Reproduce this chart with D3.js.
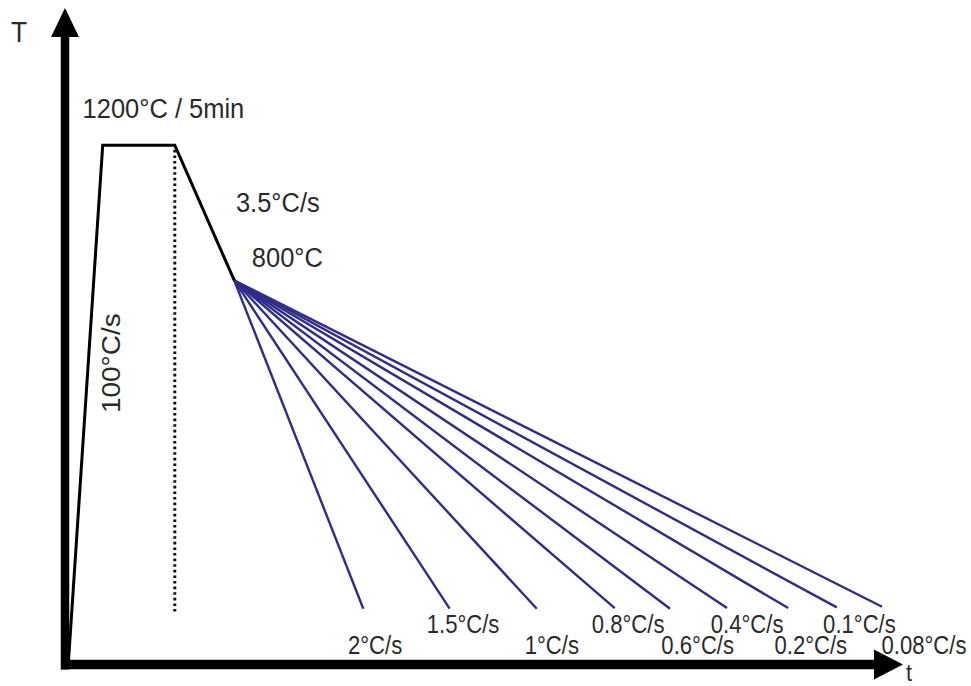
<!DOCTYPE html>
<html>
<head>
<meta charset="utf-8">
<script src="https://cdn.jsdelivr.net/npm/d3@7"></script>
<style>
  html, body { margin: 0; padding: 0; background: #fff; }
  svg { display: block; }
  text { font-family: "Liberation Sans", Arial, sans-serif; fill: #2a2a2a; }
</style>
</head>
<body>
<svg id="chart" width="971" height="686"></svg>
<script>
// ---- Data (schematic units: time 0..1000, temperature 0..1000) ----
const profileT    = [4, 45, 131, 202];      // heating start, reach 1200°C, end of hold, reach 800°C
const profileTemp = [2, 791, 791, 585];
const holdMarkerT = 131;
const holdMarkerTemp = [784, 78];

const rates      = ["2°C/s", "1.5°C/s", "1°C/s", "0.8°C/s", "0.6°C/s", "0.4°C/s", "0.2°C/s", "0.1°C/s", "0.08°C/s"];
const coolEndT   = [356, 459, 563, 656, 722, 790, 863, 921, 975];
const coolEndTmp = [85, 85, 85, 86, 85, 86, 86, 87, 88];
const labelT     = [370, 475, 581, 672, 755, 814, 890, 948, 1025];
const labelRow   = [0, 1, 0, 1, 0, 1, 0, 1, 0];   // 0 = lower row, 1 = upper row
const rowTemp    = [16, 48];

const stageLabels = ["1200°C / 5min", "3.5°C/s", "800°C", "100°C/s"];
const stageT      = [21, 204, 223, 66];
const stageTemp   = [833, 689, 605, 383];

// ---- Scales ----
const svg = d3.select("#chart");
const x = d3.scaleLinear().domain([0, 1000]).range([65, 903]);
const y = d3.scaleLinear().domain([0, 1000]).range([664.5, 8]);

// ---- Axes (arrows) ----
const x0 = x(0), y0 = y(0), xEnd = x.range()[1], yTop = y.range()[1];
const headLen = 28, headHalf = 14;
svg.append("line").attr("x1", x0).attr("x2", x0).attr("y1", y0 + 5).attr("y2", yTop + headLen)
  .attr("stroke", "#000").attr("stroke-width", 8.5);
svg.append("path").attr("d", `M${x0 - headHalf},${yTop + headLen + 1}L${x0 + headHalf},${yTop + headLen + 1}L${x0},${yTop}Z`).attr("fill", "#000");
svg.append("line").attr("x1", x0 - 4).attr("x2", xEnd - headLen).attr("y1", y0).attr("y2", y0)
  .attr("stroke", "#000").attr("stroke-width", 9.5);
svg.append("path").attr("d", `M${xEnd - headLen - 1},${y0 - 15}L${xEnd - headLen - 1},${y0 + 15}L${xEnd},${y0}Z`).attr("fill", "#000");

function label(txt, px, py, size, sx, anchor, rot) {
  return svg.append("text")
    .attr("transform", `translate(${px},${py}) scale(${sx},1)` + (rot ? ` rotate(${rot})` : ""))
    .attr("font-size", size)
    .attr("text-anchor", anchor || "start")
    .text(txt);
}
label("T", 11, 42, 29, 0.91);
label("t", 906, 681, 23, 0.95);

// ---- Hold marker (dotted) ----
svg.append("line")
  .attr("x1", x(holdMarkerT)).attr("x2", x(holdMarkerT))
  .attr("y1", y(holdMarkerTemp[0])).attr("y2", y(holdMarkerTemp[1]))
  .attr("stroke", "#111").attr("stroke-width", 3).attr("stroke-dasharray", "2.6,3");

// ---- Cooling lines ----
const start = [x(profileT[3]), y(profileTemp[3])];
svg.append("g").selectAll("line").data(rates).join("line")
  .attr("x1", start[0]).attr("y1", start[1])
  .attr("x2", (d, i) => x(coolEndT[i])).attr("y2", (d, i) => y(coolEndTmp[i]))
  .attr("stroke", "#2d2d8c").attr("stroke-width", 2.4);

// ---- Thermal profile ----
svg.append("path")
  .datum(profileT.map((t, i) => [t, profileTemp[i]]))
  .attr("d", d3.line().x(d => x(d[0])).y(d => y(d[1])))
  .attr("fill", "none").attr("stroke", "#000").attr("stroke-width", 3).attr("stroke-linejoin", "miter");

// ---- Rate labels ----
rates.forEach((r, i) => {
  label(r, x(labelT[i]), y(rowTemp[labelRow[i]]), 26, 0.85, "middle");
});

// ---- Stage labels ----
label(stageLabels[0], x(stageT[0]), y(stageTemp[0]), 28, 0.91);
label(stageLabels[1], x(stageT[1]), y(stageTemp[1]), 28, 0.91);
label(stageLabels[2], x(stageT[2]), y(stageTemp[2]), 28, 0.91);
label(stageLabels[3], x(stageT[3]), y(stageTemp[3]), 28, 0.91, "start", -90);
</script>
</body>
</html>
